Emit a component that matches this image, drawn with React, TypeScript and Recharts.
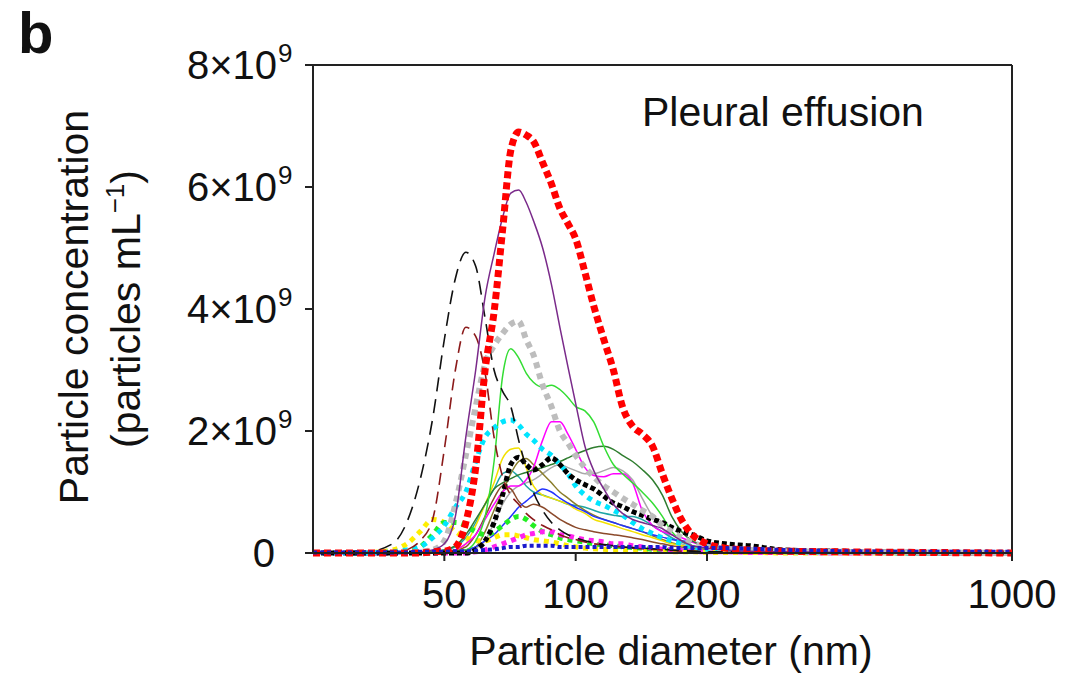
import React from 'react';
import { LineChart, Line, XAxis, YAxis, ReferenceLine } from 'recharts';

// particle diameter grid (nm)
const diameters = [25, 32, 38, 41, 44, 47, 50, 53, 56, 59, 62, 65, 68, 71, 74, 77, 80, 84, 88, 92, 96, 100, 105, 110, 116, 122, 128, 135, 142, 150, 158, 166, 175, 185, 200, 220, 250, 300, 400, 600, 1000];

// concentrations, x10^9 particles/mL
const red = [0, 0, 0, 0, 0, 0.02, 0.03, 0.1, 0.5, 1.4, 3.0, 3.95, 5.3, 6.6, 6.9, 6.85, 6.75, 6.4, 6.05, 5.65, 5.4, 5.15, 4.6, 4.05, 3.5, 3.0, 2.4, 2.08, 1.95, 1.75, 1.3, 0.9, 0.54, 0.3, 0.15, 0.08, 0.05, 0.03, 0.02, 0.01, 0];
const purple = [0, 0, 0, 0, 0.02, 0.05, 0.15, 0.6, 1.9, 3.0, 4.2, 4.9, 5.5, 5.9, 5.95, 5.75, 5.45, 5.0, 4.4, 3.7, 3.05, 2.45, 1.75, 1.35, 1.05, 0.8, 0.65, 0.55, 0.5, 0.45, 0.4, 0.3, 0.2, 0.12, 0.08, 0.05, 0.03, 0.02, 0.01, 0, 0];
const blackDash = [0, 0, 0.15, 0.5, 1.2, 2.2, 3.5, 4.5, 4.93, 4.7, 3.85, 3.0, 2.65, 2.4, 1.85, 1.4, 1.0, 0.7, 0.5, 0.38, 0.3, 0.25, 0.2, 0.17, 0.14, 0.12, 0.1, 0.09, 0.08, 0.07, 0.06, 0.05, 0.04, 0.03, 0.02, 0.02, 0.01, 0.01, 0, 0, 0];
const brownDash = [0, 0, 0, 0.05, 0.2, 0.55, 1.7, 3.0, 3.7, 3.55, 2.95, 1.9, 1.25, 0.95, 0.8, 0.65, 0.55, 0.45, 0.38, 0.3, 0.25, 0.22, 0.18, 0.15, 0.13, 0.11, 0.1, 0.08, 0.07, 0.06, 0.05, 0.04, 0.03, 0.03, 0.02, 0.01, 0.01, 0, 0, 0, 0];
const greyDot = [0, 0, 0, 0, 0.02, 0.05, 0.2, 0.8, 1.6, 2.4, 3.1, 3.4, 3.6, 3.75, 3.8, 3.5, 3.25, 2.75, 2.4, 2.0, 1.8, 1.6, 1.4, 1.25, 1.1, 1.0, 0.9, 0.8, 0.7, 0.6, 0.45, 0.35, 0.25, 0.17, 0.1, 0.07, 0.05, 0.03, 0.02, 0.01, 0];
const lime = [0, 0, 0, 0, 0, 0, 0.02, 0.03, 0.05, 0.2, 0.6, 1.5, 2.9, 3.35, 3.2, 2.95, 2.8, 2.72, 2.75, 2.68, 2.55, 2.4, 2.33, 2.15, 1.75, 1.45, 1.3, 1.15, 1.0, 0.82, 0.6, 0.35, 0.2, 0.12, 0.08, 0.1, 0.05, 0.03, 0.02, 0.01, 0];
const cyanDot = [0, 0, 0.02, 0.05, 0.1, 0.25, 0.45, 0.75, 1.0, 1.5, 1.9, 2.05, 2.15, 2.18, 2.1, 1.95, 1.85, 1.7, 1.6, 1.45, 1.3, 1.1, 0.95, 0.85, 0.78, 0.7, 0.62, 0.5, 0.4, 0.32, 0.25, 0.2, 0.15, 0.1, 0.06, 0.04, 0.03, 0.02, 0.01, 0, 0];
const magenta = [0, 0, 0, 0, 0, 0, 0, 0.05, 0.15, 0.3, 0.55, 0.8, 1.0, 1.1, 1.1, 1.2, 1.4, 1.85, 2.15, 2.15, 1.95, 1.7, 1.4, 1.27, 1.25, 1.3, 1.3, 1.15, 0.7, 0.45, 0.35, 0.3, 0.25, 0.18, 0.1, 0.06, 0.04, 0.02, 0.01, 0, 0];
const darkGreen = [0, 0, 0, 0, 0, 0.02, 0.05, 0.12, 0.3, 0.55, 0.8, 1.05, 1.15, 1.22, 1.28, 1.32, 1.36, 1.4, 1.45, 1.5, 1.56, 1.62, 1.68, 1.73, 1.75, 1.7, 1.6, 1.5, 1.37, 1.2, 0.95, 0.6, 0.35, 0.2, 0.12, 0.08, 0.05, 0.03, 0.02, 0.01, 0];
const blackDot = [0, 0, 0, 0, 0, 0, 0, 0, 0, 0.05, 0.2, 0.5, 0.95, 1.45, 1.57, 1.45, 1.36, 1.45, 1.56, 1.45, 1.3, 1.2, 1.12, 1.05, 0.93, 0.82, 0.76, 0.68, 0.62, 0.55, 0.5, 0.42, 0.35, 0.3, 0.2, 0.15, 0.12, 0.05, 0.03, 0.01, 0];
const yellow = [0, 0, 0, 0, 0, 0, 0.02, 0.05, 0.15, 0.45, 0.8, 1.15, 1.55, 1.7, 1.72, 1.4, 1.1, 0.95, 0.9, 0.85, 0.8, 0.72, 0.65, 0.55, 0.5, 0.45, 0.4, 0.35, 0.3, 0.25, 0.2, 0.15, 0.12, 0.1, 0.07, 0.05, 0.03, 0.02, 0.01, 0, 0];
const olive = [0, 0, 0, 0, 0, 0, 0, 0.03, 0.05, 0.1, 0.35, 0.7, 1.0, 1.3, 1.5, 1.55, 1.45, 1.3, 1.15, 1.0, 0.9, 0.8, 0.7, 0.62, 0.55, 0.5, 0.45, 0.4, 0.35, 0.28, 0.22, 0.17, 0.12, 0.08, 0.05, 0.03, 0.02, 0.01, 0, 0, 0];
const teal = [0, 0, 0, 0, 0, 0.02, 0.05, 0.1, 0.25, 0.5, 0.8, 1.05, 1.3, 1.35, 1.25, 1.1, 1.0, 0.95, 0.9, 0.85, 0.8, 0.78, 0.75, 0.7, 0.65, 0.62, 0.6, 0.6, 0.55, 0.45, 0.35, 0.25, 0.18, 0.12, 0.08, 0.05, 0.03, 0.02, 0.01, 0, 0];
const brown = [0, 0, 0, 0, 0, 0, 0.02, 0.05, 0.1, 0.3, 0.6, 0.9, 1.1, 1.05, 0.85, 0.75, 0.8, 0.75, 0.65, 0.55, 0.48, 0.42, 0.38, 0.35, 0.32, 0.3, 0.28, 0.25, 0.22, 0.18, 0.15, 0.12, 0.1, 0.08, 0.05, 0.03, 0.02, 0.01, 0, 0, 0];
const blue = [0, 0, 0, 0, 0, 0, 0, 0.02, 0.05, 0.1, 0.2, 0.3, 0.45, 0.6, 0.75, 0.85, 0.95, 1.05, 1.0, 0.9, 0.82, 0.75, 0.68, 0.6, 0.55, 0.5, 0.45, 0.4, 0.35, 0.3, 0.26, 0.22, 0.2, 0.18, 0.15, 0.1, 0.06, 0.04, 0.02, 0.01, 0];
const greySolid = [0, 0, 0, 0, 0, 0, 0, 0, 0.02, 0.08, 0.2, 0.5, 0.8, 1.0, 1.1, 1.15, 1.2, 1.3, 1.4, 1.45, 1.4, 1.35, 1.3, 1.3, 1.35, 1.4, 1.35, 1.2, 0.9, 0.6, 0.4, 0.25, 0.15, 0.1, 0.06, 0.04, 0.03, 0.02, 0.01, 0, 0];
const limeDot = [0, 0, 0, 0.02, 0.1, 0.3, 0.5, 0.5, 0.45, 0.35, 0.3, 0.35, 0.45, 0.55, 0.6, 0.55, 0.45, 0.35, 0.3, 0.25, 0.22, 0.2, 0.18, 0.15, 0.13, 0.12, 0.1, 0.09, 0.08, 0.06, 0.05, 0.04, 0.04, 0.03, 0.03, 0.08, 0.05, 0.02, 0.01, 0, 0];
const yellowDot = [0, 0, 0.05, 0.15, 0.35, 0.55, 0.5, 0.35, 0.25, 0.2, 0.2, 0.25, 0.3, 0.3, 0.28, 0.25, 0.22, 0.2, 0.18, 0.15, 0.12, 0.1, 0.08, 0.07, 0.06, 0.05, 0.05, 0.04, 0.04, 0.03, 0.03, 0.02, 0.02, 0.02, 0.01, 0.01, 0.01, 0, 0, 0, 0];
const magentaDot = [0, 0, 0, 0, 0, 0, 0, 0, 0, 0.02, 0.05, 0.1, 0.15, 0.2, 0.25, 0.3, 0.32, 0.35, 0.35, 0.3, 0.28, 0.25, 0.22, 0.2, 0.18, 0.15, 0.15, 0.12, 0.1, 0.08, 0.06, 0.05, 0.04, 0.03, 0.02, 0.02, 0.01, 0.01, 0, 0, 0];
const blueDot = [0.01, 0.01, 0.01, 0.01, 0.02, 0.02, 0.02, 0.03, 0.03, 0.04, 0.05, 0.06, 0.08, 0.1, 0.1, 0.12, 0.12, 0.12, 0.12, 0.1, 0.1, 0.1, 0.1, 0.1, 0.1, 0.1, 0.1, 0.1, 0.1, 0.1, 0.1, 0.08, 0.08, 0.08, 0.08, 0.08, 0.07, 0.05, 0.03, 0.02, 0.02];

const xTicks = [50, 100, 200, 1000];
const yTicks = [0, 2, 4, 6, 8];

// drawing order: back to front
const series = [
  { key: 'greySolid', values: greySolid, color: '#a8a8a8', width: 1.5, dash: undefined },
  { key: 'teal', values: teal, color: '#1fa5a5', width: 1.5, dash: undefined },
  { key: 'brown', values: brown, color: '#8b4a2b', width: 1.5, dash: undefined },
  { key: 'olive', values: olive, color: '#8a7d2a', width: 1.5, dash: undefined },
  { key: 'yellow', values: yellow, color: '#f2e000', width: 1.5, dash: undefined },
  { key: 'blue', values: blue, color: '#2233ff', width: 1.5, dash: undefined },
  { key: 'yellowDot', values: yellowDot, color: '#ffee00', width: 5, dash: '5 5' },
  { key: 'limeDot', values: limeDot, color: '#22ee22', width: 5, dash: '5 5' },
  { key: 'magentaDot', values: magentaDot, color: '#ff22ee', width: 5, dash: '5 5' },
  { key: 'magenta', values: magenta, color: '#ff00ff', width: 1.5, dash: undefined },
  { key: 'darkGreen', values: darkGreen, color: '#2f7d2f', width: 1.5, dash: undefined },
  { key: 'lime', values: lime, color: '#33dd33', width: 1.5, dash: undefined },
  { key: 'cyanDot', values: cyanDot, color: '#00e5ff', width: 5, dash: '5 5' },
  { key: 'blackDot', values: blackDot, color: '#000000', width: 5, dash: '5 3' },
  { key: 'greyDot', values: greyDot, color: '#bdbdbd', width: 6, dash: '6 5' },
  { key: 'brownDash', values: brownDash, color: '#8b1a1a', width: 1.6, dash: '12 7' },
  { key: 'blackDash', values: blackDash, color: '#111111', width: 1.6, dash: '14 8' },
  { key: 'purple', values: purple, color: '#7a2a8a', width: 1.5, dash: undefined },
  { key: 'red', values: red, color: '#ff0000', width: 7, dash: '7 4' },
  { key: 'blueDot', values: blueDot, color: '#1a1acc', width: 4, dash: '4 3' },
];

const rows = diameters.map((d, i) => {
  const row: Record<string, number> = { d };
  series.forEach((s) => {
    row[s.key] = s.values[i];
  });
  return row;
});

const FONT = '"Liberation Sans", Arial, Helvetica, sans-serif';

const XTick = ({ x, y, payload }: any) => (
  <text x={x} y={y + 45} textAnchor="middle" fontSize={40} fontFamily={FONT} fill="#111">
    {payload.value}
  </text>
);

const YTick = ({ x, y, payload }: any) => {
  const v = payload.value;
  if (v === 0) {
    return (
      <text x={x - 28} y={y + 14} textAnchor="end" fontSize={40} fontFamily={FONT} fill="#111">
        0
      </text>
    );
  }
  return (
    <g>
      <text x={x - 26} y={y + 14} textAnchor="end" fontSize={40} fontFamily={FONT} fill="#111">
        {`${v}×10`}
      </text>
      <text x={x - 25} y={y - 3} textAnchor="start" fontSize={26} fontFamily={FONT} fill="#111">
        9
      </text>
    </g>
  );
};

export default function App() {
  // the page margin is dropped so the figure fills the whole 1068x673 window
  return (
    <div style={{ position: 'relative', width: 1068, height: 673, overflow: 'hidden' }}>
      <style>{'html, body { margin: 0; padding: 0; overflow: hidden; }'}</style>
      <LineChart width={1068} height={673} data={rows} margin={{ top: 65, right: 56, bottom: 0, left: 0 }}>
        <XAxis
          dataKey="d"
          type="number"
          scale="log"
          domain={[25, 1000]}
          ticks={xTicks}
          allowDataOverflow
          height={120}
          tickSize={8}
          tick={<XTick />}
          axisLine={{ stroke: '#222', strokeWidth: 2 }}
          tickLine={{ stroke: '#222', strokeWidth: 2 }}
        />
        <YAxis
          type="number"
          domain={[0, 8]}
          ticks={yTicks}
          width={313}
          tickSize={8}
          tick={<YTick />}
          axisLine={{ stroke: '#222', strokeWidth: 2 }}
          tickLine={{ stroke: '#222', strokeWidth: 2 }}
        />
        <ReferenceLine y={8} stroke="#222" strokeWidth={2} />
        <ReferenceLine x={1000} stroke="#222" strokeWidth={2} />
        {series.map((s) => (
          <Line
            key={s.key}
            dataKey={s.key}
            type="monotone"
            stroke={s.color}
            strokeWidth={s.width}
            strokeDasharray={s.dash}
            dot={false}
            activeDot={false}
            isAnimationActive={false}
          />
        ))}
      </LineChart>
      <svg
        width={1068}
        height={673}
        style={{ position: 'absolute', left: 0, top: 0, pointerEvents: 'none' }}
        fontFamily={FONT}
        fill="#111"
      >
        <text x={18} y={53} fontSize={58} fontWeight="bold">b</text>
        <text x={642} y={126} fontSize={41}>Pleural effusion</text>
        <text x={671} y={665} fontSize={41} textAnchor="middle">Particle diameter (nm)</text>
        <text transform="translate(88,307) rotate(-90)" fontSize={41} textAnchor="middle">
          Particle concentration
        </text>
        <text transform="translate(140,309) rotate(-90)" fontSize={41} textAnchor="middle">
          <tspan>(particles mL</tspan>
          <tspan fontSize={26} dy={-16}>−1</tspan>
          <tspan dy={16}>)</tspan>
        </text>
      </svg>
    </div>
  );
}
